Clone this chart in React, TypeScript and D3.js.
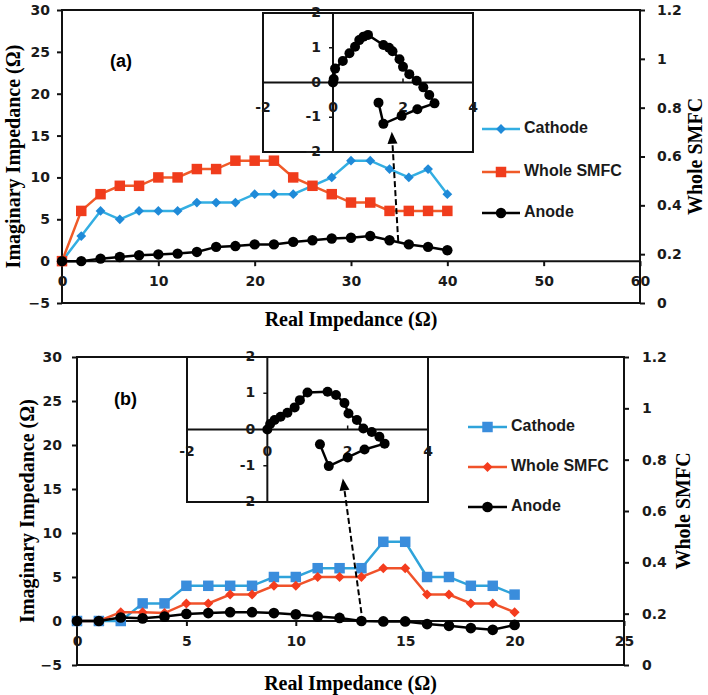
import React, { useEffect, useRef } from "react";
import * as d3 from "d3";

// ---- data ----
const seriesNames = ["Cathode", "Whole SMFC", "Anode"];

// panel (a)
const realA = [0, 2, 4, 6, 8, 10, 12, 14, 16, 18, 20, 22, 24, 26, 28, 30, 32, 34, 36, 38, 40];
const cathodeA = [0, 3, 6, 5, 6, 6, 6, 7, 7, 7, 8, 8, 8, 9, 10, 12, 12, 11, 10, 11, 8];
const wholeA = [0, 6, 8, 9, 9, 10, 10, 11, 11, 12, 12, 12, 10, 9, 8, 7, 7, 6, 6, 6, 6];
const anodeA = [0, 0, 0.3, 0.5, 0.7, 0.8, 0.9, 1.1, 1.7, 1.8, 2, 2, 2.3, 2.5, 2.7, 2.8, 3, 2.5, 2, 1.7, 1.3];
const insetRealA = [0, 0.02, 0.06, 0.28, 0.47, 0.63, 0.75, 0.87, 1.0, 1.44, 1.6, 1.7, 1.9, 2.0, 2.18, 2.39, 2.58, 2.75, 2.9, 2.41, 1.96, 1.44, 1.3];
const insetImagA = [0, 0.1, 0.4, 0.62, 0.84, 1.03, 1.22, 1.32, 1.37, 1.08, 1.0, 0.9, 0.67, 0.45, 0.24, 0.05, -0.14, -0.36, -0.6, -0.77, -0.96, -1.19, -0.58];

// panel (b)
const realB = [0, 1, 2, 3, 4, 5, 6, 7, 8, 9, 10, 11, 12, 13, 14, 15, 16, 17, 18, 19, 20];
const cathodeB = [0, 0, 0, 2, 2, 4, 4, 4, 4, 5, 5, 6, 6, 6, 9, 9, 5, 5, 4, 4, 3];
const wholeB = [0, 0, 1, 1, 0.9, 2, 2, 3, 3, 4, 4, 5, 5, 5, 6, 6, 3, 3, 2, 2, 1];
const anodeB = [0, 0, 0.4, 0.3, 0.5, 0.8, 0.9, 1, 1, 0.9, 0.75, 0.5, 0.35, 0, -0.05, -0.05, -0.35, -0.55, -0.8, -1, -0.45];
const insetRealB = [0, 0.07, 0.18, 0.33, 0.5, 0.68, 0.81, 1.0, 1.5, 1.71, 1.92, 2.02, 2.23, 2.39, 2.6, 2.79, 2.92, 2.42, 2.0, 1.53, 1.31];
const insetImagB = [0, 0.15, 0.26, 0.35, 0.46, 0.61, 0.81, 1.02, 1.04, 0.95, 0.73, 0.44, 0.26, 0.03, -0.07, -0.2, -0.39, -0.55, -0.77, -1.01, -0.41];

const yTicks = [-5, 0, 5, 10, 15, 20, 25, 30];
const rightTicks = [0, 0.2, 0.4, 0.6, 0.8, 1, 1.2];
const xTicksA = [0, 10, 20, 30, 40, 50, 60];
const xTicksB = [0, 5, 10, 15, 20, 25];
const insetXTicks = [-2, 0, 2, 4];
const insetYTicks = [-2, -1, 0, 1, 2];

const tickFont = "'DejaVu Sans', sans-serif";
const legendFont = "'Liberation Sans', Arial, sans-serif";
const titleFont = "'Liberation Serif', 'DejaVu Serif', serif";

const symbolPath = (kind: string, size: number) => {
  if (kind === "circle") return d3.symbol(d3.symbolCircle, size)();
  return d3.symbol(d3.symbolSquare, size)();
};

const draw = (svg: any, p: any) => {
  const x = d3.scaleLinear().domain(p.xDomain).range([p.left, p.right]);
  const y = d3.scaleLinear().domain([-5, 30]).range([p.bottom, p.top]);
  const y2 = d3.scaleLinear().domain([0, 1.2]).range([p.bottom, p.top]);
  const g = svg.append("g");

  // frame + zero line
  g.append("rect")
    .attr("x", p.left).attr("y", p.top)
    .attr("width", p.right - p.left).attr("height", p.bottom - p.top)
    .attr("fill", "none").attr("stroke", "#111").attr("stroke-width", 2);
  g.append("line")
    .attr("x1", p.left).attr("x2", p.right)
    .attr("y1", y(0)).attr("y2", y(0))
    .attr("stroke", "#111").attr("stroke-width", 2);

  const styleAxis = (a: any) => {
    a.select(".domain").remove();
    a.selectAll("line").attr("stroke", "#111").attr("stroke-width", 2);
    a.selectAll("text")
      .attr("font-family", tickFont).attr("font-weight", 700)
      .attr("font-size", 14).attr("fill", "#1a1a1a");
  };

  g.append("g").attr("transform", `translate(${p.left},0)`)
    .call(d3.axisLeft(y).tickValues(yTicks).tickSize(5).tickPadding(p.leftPad))
    .call(styleAxis);
  g.append("g").attr("transform", `translate(${p.right},0)`)
    .call(d3.axisRight(y2).tickValues(rightTicks).tickSize(5).tickPadding(p.rightPad)
      .tickFormat((d: any) => d3.format("~g")(d)))
    .call(styleAxis);
  g.append("g").attr("transform", `translate(0,${y(0)})`)
    .call(d3.axisBottom(x).tickValues(p.xTicks).tickSize(5).tickPadding(10))
    .call(styleAxis);

  // titles
  g.append("text")
    .attr("x", (p.left + p.right) / 2).attr("y", p.xTitleY)
    .attr("text-anchor", "middle").attr("dominant-baseline", "middle")
    .attr("font-family", titleFont).attr("font-weight", 700).attr("font-size", 20)
    .text("Real Impedance (Ω)");
  g.append("text")
    .attr("transform", `translate(${p.yTitleX},${(p.top + p.bottom) / 2}) rotate(-90)`)
    .attr("text-anchor", "middle").attr("dominant-baseline", "middle")
    .attr("font-family", titleFont).attr("font-weight", 700).attr("font-size", 20)
    .text("Imaginary Impedance (Ω)");
  g.append("text")
    .attr("transform", `translate(${p.y2TitleX},${(p.top + p.bottom) / 2}) rotate(-90)`)
    .attr("text-anchor", "middle").attr("dominant-baseline", "middle")
    .attr("font-family", titleFont).attr("font-weight", 700).attr("font-size", 20)
    .text("Whole SMFC");
  g.append("text")
    .attr("x", p.tagX).attr("y", p.tagY)
    .attr("dominant-baseline", "middle")
    .attr("font-family", legendFont).attr("font-weight", 700).attr("font-size", 18)
    .text(p.tag);

  // series
  const line = d3.line<number>().x((_d, i) => x(p.real[i])).y((d) => y(d));
  p.series.forEach((s: any) => {
    g.append("path").attr("d", line(s.values))
      .attr("fill", "none").attr("stroke", s.line).attr("stroke-width", 2.5);
    g.selectAll(null).data(s.values).enter().append("path")
      .attr("d", symbolPath(s.marker, s.size))
      .attr("transform", (d: number, i: number) =>
        `translate(${x(p.real[i])},${y(d)})${s.marker === "diamond" ? " rotate(45)" : ""}`)
      .attr("fill", s.fill);
  });

  // legend
  p.series.forEach((s: any, i: number) => {
    const ly = p.legendY[i];
    g.append("line")
      .attr("x1", p.legendX[0]).attr("x2", p.legendX[1])
      .attr("y1", ly).attr("y2", ly)
      .attr("stroke", s.line).attr("stroke-width", 2.5);
    g.append("path")
      .attr("d", symbolPath(s.marker, s.size))
      .attr("transform", `translate(${(p.legendX[0] + p.legendX[1]) / 2},${ly})${s.marker === "diamond" ? " rotate(45)" : ""}`)
      .attr("fill", s.fill);
    g.append("text")
      .attr("x", p.legendX[1] + 4).attr("y", ly)
      .attr("dominant-baseline", "middle")
      .attr("font-family", legendFont).attr("font-weight", 700).attr("font-size", 16)
      .attr("fill", "#1a1a1a")
      .text(seriesNames[i]);
  });

  // inset
  const ix = d3.scaleLinear().domain([-2, 4]).range([p.inset.left, p.inset.right]);
  const iy = d3.scaleLinear().domain([-2, 2]).range([p.inset.bottom, p.inset.top]);
  const ig = g.append("g");
  ig.append("rect")
    .attr("x", ix(-2)).attr("y", iy(2))
    .attr("width", ix(4) - ix(-2)).attr("height", iy(-2) - iy(2))
    .attr("fill", "#fff").attr("stroke", "#111").attr("stroke-width", 2);
  ig.append("line").attr("x1", ix(-2)).attr("x2", ix(4)).attr("y1", iy(0)).attr("y2", iy(0))
    .attr("stroke", "#111").attr("stroke-width", 2);
  ig.append("line").attr("x1", ix(0)).attr("x2", ix(0)).attr("y1", iy(-2)).attr("y2", iy(2))
    .attr("stroke", "#111").attr("stroke-width", 2);
  ig.selectAll(null).data(insetXTicks).enter().append("line")
    .attr("x1", (d: number) => ix(d)).attr("x2", (d: number) => ix(d))
    .attr("y1", iy(0)).attr("y2", iy(0) - 4)
    .attr("stroke", "#111").attr("stroke-width", 1.5);
  ig.selectAll(null).data(insetYTicks).enter().append("line")
    .attr("x1", ix(0)).attr("x2", ix(0) - 4)
    .attr("y1", (d: number) => iy(d)).attr("y2", (d: number) => iy(d))
    .attr("stroke", "#111").attr("stroke-width", 1.5);
  ig.selectAll(null).data(insetXTicks).enter().append("text")
    .attr("x", (d: number) => ix(d)).attr("y", iy(0) + p.inset.xLabelOff)
    .attr("text-anchor", "middle").attr("dominant-baseline", "middle")
    .attr("font-family", tickFont).attr("font-weight", 700).attr("font-size", 14)
    .attr("fill", "#1a1a1a")
    .text((d: number) => String(d));
  ig.selectAll(null).data(insetYTicks).enter().append("text")
    .attr("x", ix(0) - 12).attr("y", (d: number) => iy(d))
    .attr("text-anchor", "end").attr("dominant-baseline", "middle")
    .attr("font-family", tickFont).attr("font-weight", 700).attr("font-size", 14)
    .attr("fill", "#1a1a1a")
    .text((d: number) => String(d));
  const iline = d3.line<number>().x((d) => ix(d)).y((_d, i) => iy(p.insetImag[i]));
  ig.append("path").attr("d", iline(p.insetReal))
    .attr("fill", "none").attr("stroke", "#000").attr("stroke-width", 2.5);
  ig.selectAll(null).data(p.insetReal).enter().append("circle")
    .attr("cx", (d: number) => ix(d)).attr("cy", (_d: number, i: number) => iy(p.insetImag[i]))
    .attr("r", 5).attr("fill", "#000");

  // dashed arrow from the anode curve up to the inset
  const x1 = x(p.arrowFrom[0]), y1 = y(p.arrowFrom[1]);
  const x2 = ix(p.arrowTo[0]), y2a = iy(p.arrowTo[1]);
  const ang = Math.atan2(y2a - y1, x2 - x1);
  const headL = 12, headW = 5;
  const bx = x2 - headL * Math.cos(ang), by = y2a - headL * Math.sin(ang);
  g.append("line")
    .attr("x1", x1).attr("y1", y1).attr("x2", bx).attr("y2", by)
    .attr("stroke", "#000").attr("stroke-width", 2).attr("stroke-dasharray", "6,3");
  g.append("path")
    .attr("d", `M${x2},${y2a}L${bx + headW * Math.sin(ang)},${by - headW * Math.cos(ang)}L${bx - headW * Math.sin(ang)},${by + headW * Math.cos(ang)}Z`)
    .attr("fill", "#000");
};

const App = () => {
  const svgRef = useRef<SVGSVGElement>(null);

  useEffect(() => {
    const svg = d3.select(svgRef.current);
    svg.selectAll("*").remove();

    draw(svg, {
      left: 62, right: 640, top: 10, bottom: 303,
      xDomain: [0, 60], xTicks: xTicksA, leftPad: 7, rightPad: 12,
      xTitleY: 321, yTitleX: 15, y2TitleX: 697, tag: "(a)", tagX: 110, tagY: 62,
      real: realA,
      series: [
        { values: cathodeA, line: "#33aee2", fill: "#1f8ad8", marker: "diamond", size: 48 },
        { values: wholeA, line: "#f05a28", fill: "#f03c1c", marker: "square", size: 110 },
        { values: anodeA, line: "#000", fill: "#000", marker: "circle", size: 85 },
      ],
      legendX: [482, 520], legendY: [129, 172, 213],
      inset: { left: 263, right: 473, top: 13, bottom: 152, xLabelOff: 25 },
      insetReal: insetRealA, insetImag: insetImagA,
      arrowFrom: [34.9, 2.4], arrowTo: [1.68, -1.42],
    });

    draw(svg, {
      left: 77, right: 624, top: 357, bottom: 665,
      xDomain: [0, 25], xTicks: xTicksB, leftPad: 10, rightPad: 13,
      xTitleY: 685, yTitleX: 29, y2TitleX: 685, tag: "(b)", tagX: 114, tagY: 400,
      real: realB,
      series: [
        { values: cathodeB, line: "#2fa3da", fill: "#3a8ddc", marker: "square", size: 110 },
        { values: wholeB, line: "#f0522a", fill: "#f43c1e", marker: "diamond", size: 50 },
        { values: anodeB, line: "#000", fill: "#000", marker: "circle", size: 90 },
      ],
      legendX: [468, 507], legendY: [427, 467, 507],
      inset: { left: 187, right: 428, top: 357, bottom: 502, xLabelOff: 22 },
      insetReal: insetRealB, insetImag: insetImagB,
      arrowFrom: [13.0, 0.9], arrowTo: [1.88, -1.35],
    });
  }, []);

  return (
    <div style={{ position: "absolute", left: 0, top: 0 }}>
      <svg ref={svgRef} width={708} height={695} style={{ display: "block", background: "#fff" }} />
    </div>
  );
};

export default App;
